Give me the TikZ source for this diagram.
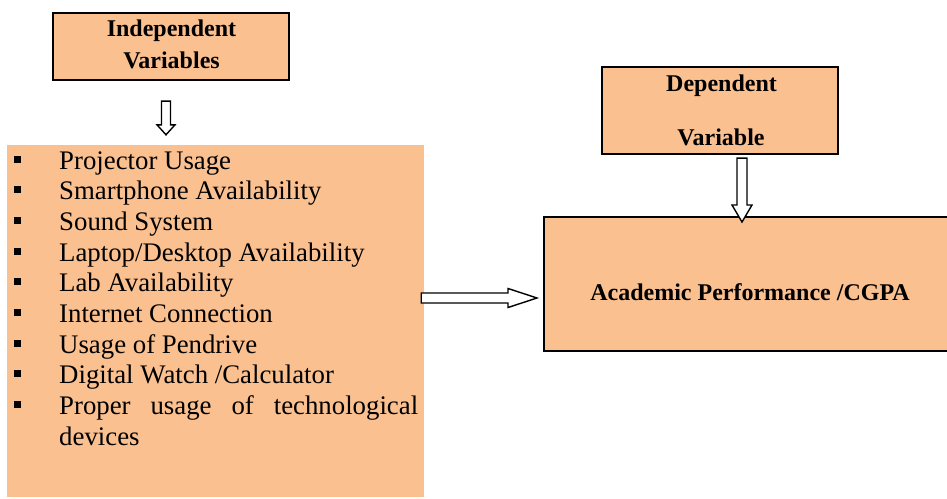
\documentclass[tikz,border=0pt]{standalone}
\usepackage{fontspec}
\setmainfont{Liberation Serif}
\usetikzlibrary{calc}
\definecolor{peach}{HTML}{FAC090}
\begin{document}
\begin{tikzpicture}[x=1pt,y=-1pt,
  hbox/.style={draw=black, line width=2.2pt, fill=peach, inner sep=0pt},
  headtxt/.style={font=\fontsize{24}{31}\selectfont\bfseries, inner sep=0pt, anchor=base},
  itemtxt/.style={font=\fontsize{26.8}{31}\selectfont, inner sep=0pt, anchor=base west},
  bul/.style={fill=black, inner sep=0pt, minimum size=7pt},
  barrow/.style={draw=black, fill=white, line width=1.4pt, line join=miter}]
\useasboundingbox (0,0) rectangle (947,498);
\clip (0,0) rectangle (947,498);

% Independent variables header
\node[hbox, minimum width=236pt, minimum height=67pt] (indep) at (171,46.5) {};
\node[headtxt] (indepA) at (171.5,36.7) {Independent};
\node[headtxt] (indepB) at (171.5,68) {Variables};

% List of independent variables
\node[fill=peach, inner sep=0pt, minimum width=417pt, minimum height=352pt] (list) at (215.5,321) {};
\foreach \t [count=\i from 0] in {Projector Usage, Smartphone Availability, Sound System,
    Laptop/Desktop Availability, Lab Availability, Internet Connection,
    Usage of Pendrive, Digital Watch /Calculator} {
  \node[itemtxt] (it\i) at (59,169+30.67*\i) {\t};
}
\foreach \i in {0,...,8} {
  \node[bul] (b\i) at (17,159+30.67*\i) {};
}
\node[itemtxt] (it8) at (59,414.3) {\hbox to 359pt{Proper\hfill usage\hfill of\hfill technological}};
\node[itemtxt] (it9) at (59,445) {devices};

% Dependent variable header
\node[hbox, minimum width=236pt, minimum height=87pt] (dep) at (720,110.5) {};
\node[headtxt] (depA) at (721.5,91) {Dependent};
\node[headtxt] (depB) at (721,145) {Variable};

% Outcome box
\node[hbox, line width=2pt, minimum width=412pt, minimum height=134pt] (acad) at (750,284) {};
\node[headtxt] (acadT) at (750,300) {Academic Performance /CGPA};

% Block arrow: independent header -> list
\coordinate (a1s) at ($(indep.south)+(-5,20)$);
\coordinate (a1e) at ($(a1s |- list.north)+(0,-10)$);
\draw[barrow] ($(a1s)+(-4.5,0)$) -- ($(a1s)+(4.5,0)$) -- ($(a1e)+(4.5,-10)$)
  -- ($(a1e)+(9,-10)$) -- (a1e) -- ($(a1e)+(-9,-10)$) -- ($(a1e)+(-4.5,-10)$) -- cycle;

% Block arrow: list -> outcome
\coordinate (a2s) at ($(list.east |- acad.west)+(-3,14)$);
\coordinate (a2e) at ($(acad.west |- a2s)+(-6,0)$);
\draw[barrow] ($(a2s)+(0,-5)$) -- ($(a2e)+(-29,-5)$) -- ($(a2e)+(-29,-9.5)$)
  -- (a2e) -- ($(a2e)+(-29,9.5)$) -- ($(a2e)+(-29,5)$) -- ($(a2s)+(0,5)$) -- cycle;

% Block arrow: dependent header -> outcome
\coordinate (a3s) at ($(dep.south)+(22,3)$);
\coordinate (a3e) at ($(a3s |- acad.north)+(0,6)$);
\draw[barrow] ($(a3s)+(-5,0)$) -- ($(a3s)+(5,0)$) -- ($(a3e)+(5,-17)$)
  -- ($(a3e)+(10,-17)$) -- (a3e) -- ($(a3e)+(-10,-17)$) -- ($(a3e)+(-5,-17)$) -- cycle;
\end{tikzpicture}
\end{document}
